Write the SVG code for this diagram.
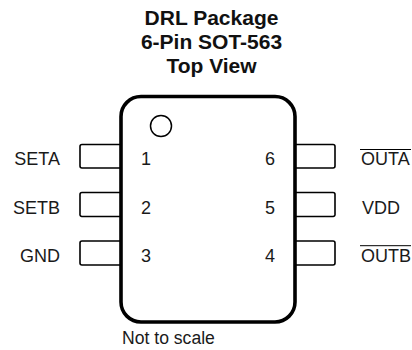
<svg xmlns="http://www.w3.org/2000/svg" width="412" height="350" viewBox="0 0 412 350">
<style>
text{font-family:"Liberation Sans",Arial,sans-serif;font-size:18px;fill:#1a1a1a}
.t{font-weight:bold;font-size:21px;text-anchor:middle;fill:#111}
.e{text-anchor:end}
.m{text-anchor:middle}
.p{fill:#fff;stroke:#000;stroke-width:1.6;stroke-linejoin:round}
.o{stroke:#000;stroke-width:1;fill:none}
</style>
<rect width="412" height="350" fill="#fff"/>
<g id="title">
<text class="t" x="211.500" y="25">DRL Package</text>
<text class="t" x="211.500" y="49">6-Pin SOT-563</text>
<text class="t" x="211.500" y="73">Top View</text>
</g>
<g id="pins">
<g id="pin1"><path class="p" d="M121 144.500H82a2 2 0 0 0-2 2V166a2 2 0 0 0 2 2H121"/><text class="e" x="60" y="165">SETA</text><text class="m" x="146" y="165">1</text></g>
<g id="pin2"><path class="p" d="M121 192.500H82a2 2 0 0 0-2 2V214a2 2 0 0 0 2 2.500H121"/><text class="e" x="60" y="214">SETB</text><text class="m" x="146" y="214">2</text></g>
<g id="pin3"><path class="p" d="M121 241H82a2 2 0 0 0-2 2V263a2 2 0 0 0 2 2H121"/><text class="e" x="60" y="262">GND</text><text class="m" x="146" y="262">3</text></g>
<g id="pin6"><path class="p" d="M295 144.500H333a2 2 0 0 1 2 2V166a2 2 0 0 1-2 2H295"/><text x="361" y="165">OUTA</text><path class="o" d="M360 149.500H411"/><text class="m" x="270" y="165">6</text></g>
<g id="pin5"><path class="p" d="M295 192.500H333a2 2 0 0 1 2 2V214a2 2 0 0 1-2 2.500H295"/><text x="362" y="214">VDD</text><text class="m" x="270" y="214">5</text></g>
<g id="pin4"><path class="p" d="M295 241H333a2 2 0 0 1 2 2V263a2 2 0 0 1-2 2H295"/><text x="361" y="262">OUTB</text><path class="o" d="M360 245.700H411"/><text class="m" x="270" y="262">4</text></g>
</g>
<g id="body">
<rect x="121" y="96.500" width="174" height="225.500" rx="20" ry="20" fill="none" stroke="#000" stroke-width="3.600"/>
<circle cx="161" cy="126" r="10.500" fill="#fff" stroke="#000" stroke-width="1.500"/>
</g>
<g id="note"><text x="122" y="344" style="font-size:17.600px">Not to scale</text></g>
</svg>
